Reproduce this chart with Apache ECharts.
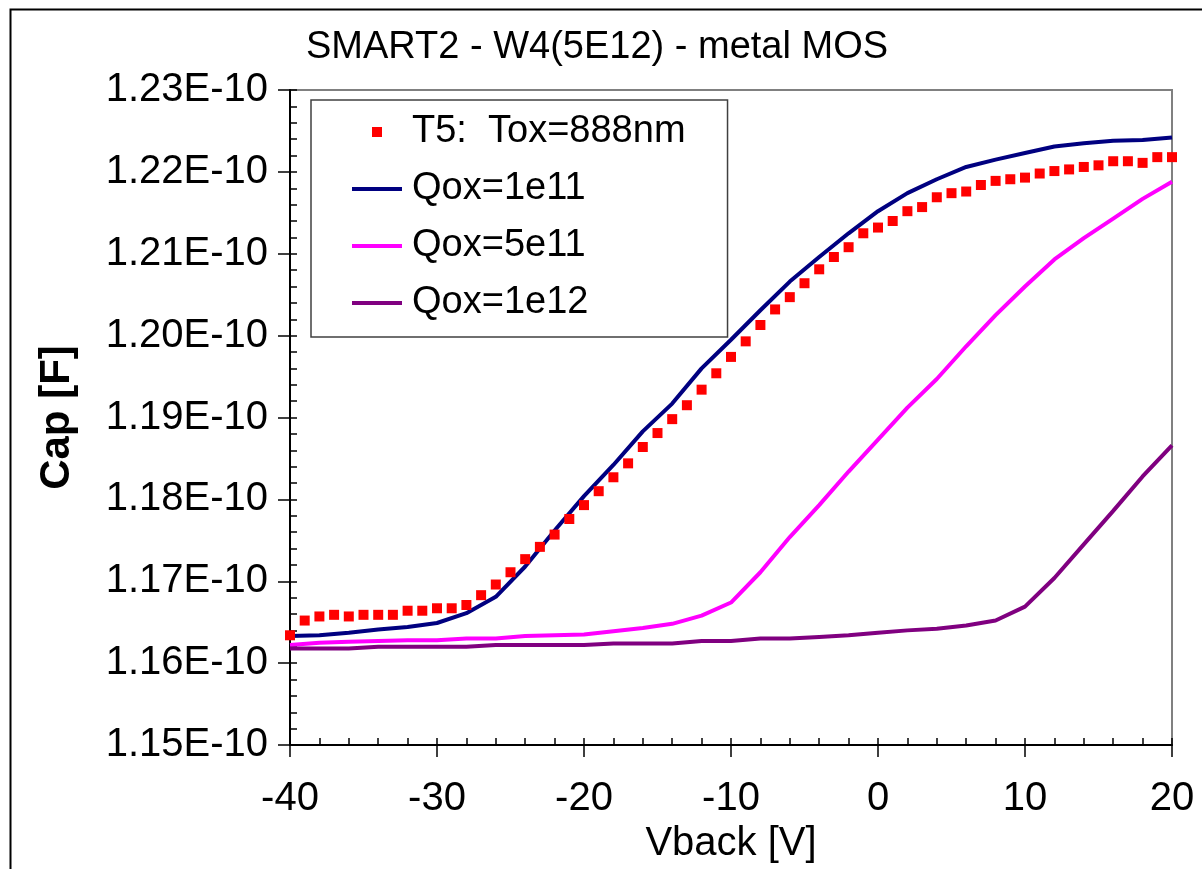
<!DOCTYPE html>
<html>
<head>
<meta charset="utf-8">
<script src="https://cdn.jsdelivr.net/npm/echarts@6/dist/echarts.min.js"></script>
<style>
html,body{margin:0;padding:0;background:#fff;}
#chart{width:1202px;height:869px;}
</style>
</head>
<body>
<div id="chart"></div>
<script>
// Measured data (capacitance in units of 1E-10 F)
var vbackMeas = [-40,-39,-38,-37,-36,-35,-34,-33,-32,-31,-30,-29,-28,-27,-26,-25,-24,-23,-22,-21,-20,-19,-18,-17,-16,-15,-14,-13,-12,-11,-10,-9,-8,-7,-6,-5,-4,-3,-2,-1,0,1,2,3,4,5,6,7,8,9,10,11,12,13,14,15,16,17,18,19,20];
var capT5 = [1.1634,1.1652,1.1657,1.1659,1.1657,1.1659,1.1659,1.1659,1.1664,1.1664,1.1667,1.1667,1.1671,1.1683,1.1696,1.1711,1.1727,1.1742,1.1757,1.1776,1.1793,1.1810,1.1827,1.1844,1.1864,1.1881,1.1898,1.1915,1.1934,1.1954,1.1974,1.1993,1.2013,1.2032,1.2047,1.2064,1.2081,1.2096,1.2108,1.2125,1.2132,1.2140,1.2152,1.2157,1.2169,1.2174,1.2176,1.2184,1.2189,1.2191,1.2193,1.2198,1.2201,1.2203,1.2206,1.2208,1.2213,1.2213,1.2211,1.2218,1.2218];

// Simulated curves
var vbackSim = [-40,-38,-36,-34,-32,-30,-28,-26,-24,-22,-20,-18,-16,-14,-12,-10,-8,-6,-4,-2,0,2,4,6,8,10,12,14,16,18,20];
var capQ1e11 = [1.1633,1.1634,1.1637,1.1641,1.1644,1.1649,1.1661,1.1681,1.1718,1.1762,1.1804,1.1842,1.1883,1.1917,1.1960,1.1995,1.2031,1.2066,1.2096,1.2125,1.2152,1.2174,1.2191,1.2206,1.2215,1.2223,1.2231,1.2235,1.2238,1.2239,1.2242];
var capQ5e11 = [1.1622,1.1625,1.1626,1.1627,1.1628,1.1628,1.1630,1.1630,1.1633,1.1634,1.1635,1.1639,1.1643,1.1648,1.1658,1.1674,1.1711,1.1754,1.1793,1.1834,1.1873,1.1912,1.1947,1.1987,1.2025,1.2060,1.2093,1.2119,1.2143,1.2167,1.2188];
var capQ1e12 = [1.1618,1.1618,1.1618,1.1620,1.1620,1.1620,1.1620,1.1622,1.1622,1.1622,1.1622,1.1624,1.1624,1.1624,1.1627,1.1627,1.1630,1.1630,1.1632,1.1634,1.1637,1.1640,1.1642,1.1646,1.1652,1.1669,1.1704,1.1745,1.1786,1.1828,1.1866];

var seriesNames = ['T5:  Tox=888nm','Qox=1e11','Qox=5e11','Qox=1e12'];
var xTicks = [-40,-30,-20,-10,0,10,20];
var yTickLabels = ['1.15E-10','1.16E-10','1.17E-10','1.18E-10','1.19E-10','1.20E-10','1.21E-10','1.22E-10','1.23E-10'];

function zip(xs, ys){ return xs.map(function(x,i){ return [x, ys[i]]; }); }

var FONT = 'Liberation Sans, Arial, Helvetica, sans-serif';
var LINE_ICON = 'path://M0,0L50,0L50,4L0,4Z';
var chart = echarts.init(document.getElementById('chart'), null, {renderer:'canvas'});
var option = {
  animation: false,
  backgroundColor: '#ffffff',
  title: {
    text: 'SMART2 - W4(5E12) - metal MOS',
    left: 592, top: 24, textAlign: 'center',
    textStyle: {fontFamily: FONT, fontSize: 38, fontWeight: 'normal', color: '#000'}
  },
  graphic: [{
    type: 'rect', left: 8, top: 7, silent: true, z: -10,
    shape: {x: 0, y: 0, width: 1400, height: 1000},
    style: {fill: 'none', stroke: '#000', lineWidth: 2}
  }],
  grid: {left: 290, right: 30, top: 90, bottom: 124, show: true, borderColor: '#808080', borderWidth: 2, backgroundColor: 'transparent'},
  legend: {
    orient: 'vertical', left: 311, top: 100,
    padding: [10, 42, 12, 41],
    itemWidth: 50, itemHeight: 10, itemGap: 13,
    backgroundColor: '#fff', borderColor: '#404040', borderWidth: 1.5,
    textStyle: {fontFamily: FONT, fontSize: 38, color: '#000', lineHeight: 44, padding: [0,0,0,5]},
    data: [
      {name: seriesNames[0], icon: 'path://M0,0L10,0L10,10L0,10Z', itemStyle: {color: '#FF0000', opacity: 1}},
      {name: seriesNames[1], icon: LINE_ICON, itemStyle: {color: '#000080'}},
      {name: seriesNames[2], icon: LINE_ICON, itemStyle: {color: '#FF00FF'}},
      {name: seriesNames[3], icon: LINE_ICON, itemStyle: {color: '#800080'}}
    ]
  },
  xAxis: [{
    type: 'value', min: -40, max: 20, interval: 10, position: 'bottom',
    axisLine: {show: true, onZero: false, lineStyle: {color: '#000', width: 2}},
    axisTick: {show: true, inside: false, length: 12, lineStyle: {color: '#000', width: 1.5}},
    axisLabel: {margin: 34, fontFamily: FONT, fontSize: 40, color: '#000',
      formatter: function(v){ return xTicks.indexOf(v) >= 0 ? String(v) : ''; }},
    splitLine: {show: false},
    name: 'Vback [V]', nameLocation: 'middle', nameGap: 72,
    nameTextStyle: {fontFamily: FONT, fontSize: 40, color: '#000'}
  }, {
    type: 'value', min: -40, max: 20, interval: 2, position: 'bottom',
    axisLine: {show: false, onZero: false},
    axisTick: {show: true, inside: true, length: 7, lineStyle: {color: '#000', width: 1.5}},
    axisLabel: {show: false}, splitLine: {show: false}
  }],
  yAxis: [{
    type: 'value', min: 1.15, max: 1.23, interval: 0.01, position: 'left',
    axisLine: {show: true, onZero: false, lineStyle: {color: '#000', width: 2}},
    axisTick: {show: true, inside: false, length: 12, lineStyle: {color: '#000', width: 1.5}},
    axisLabel: {margin: 22, fontFamily: FONT, fontSize: 40, color: '#000',
      formatter: function(v){ var i = Math.round((v - 1.15) / 0.01); return yTickLabels[i] || ''; }},
    splitLine: {show: false},
    name: 'Cap [F]', nameLocation: 'middle', nameGap: 212, nameRotate: 90,
    nameTextStyle: {fontFamily: FONT, fontSize: 42, fontWeight: 'bold', color: '#000'}
  }, {
    type: 'value', min: 1.15, max: 1.23, interval: 0.002, position: 'left',
    axisLine: {show: false, onZero: false},
    axisTick: {show: true, inside: true, length: 7, lineStyle: {color: '#000', width: 1.5}},
    axisLabel: {show: false}, splitLine: {show: false}
  }],
  series: [
    {name: seriesNames[1], type: 'line', data: zip(vbackSim, capQ1e11), showSymbol: false, symbol: 'none',
      lineStyle: {color: '#000080', width: 4}, itemStyle: {color: '#000080'}, z: 2},
    {name: seriesNames[2], type: 'line', data: zip(vbackSim, capQ5e11), showSymbol: false, symbol: 'none',
      lineStyle: {color: '#FF00FF', width: 4}, itemStyle: {color: '#FF00FF'}, z: 2},
    {name: seriesNames[3], type: 'line', data: zip(vbackSim, capQ1e12), showSymbol: false, symbol: 'none',
      lineStyle: {color: '#800080', width: 4}, itemStyle: {color: '#800080'}, z: 2},
    {name: seriesNames[0], type: 'scatter', data: zip(vbackMeas, capT5), symbol: 'rect', symbolSize: 10,
      itemStyle: {color: '#FF0000', opacity: 1}, z: 3}
  ]
};
chart.setOption(option);
</script>
</body>
</html>
